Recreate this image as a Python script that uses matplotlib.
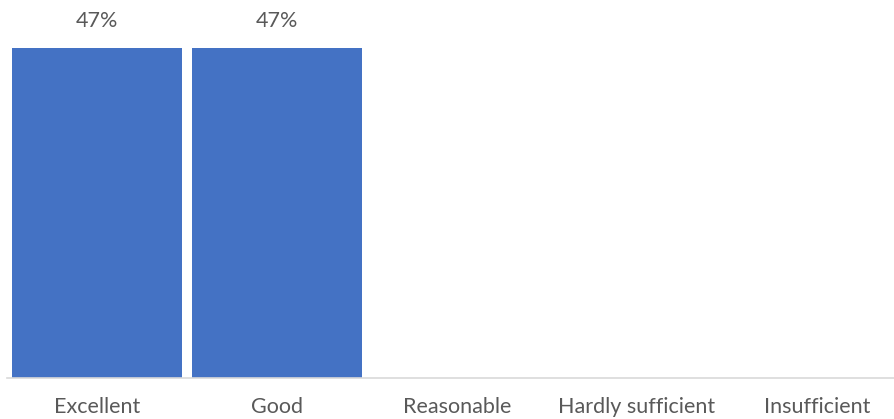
import matplotlib.pyplot as plt

categories = ["Excellent", "Good", "Reasonable", "Hardly sufficient", "Insufficient"]
values = [47, 47, 0, 0, 0]

plt.rcParams['font.family'] = ['Lato', 'DejaVu Sans']

W, H = 894, 419
fig = plt.figure(figsize=(W / 100, H / 100), dpi=100)
# axis baseline at y=378px, 47% bar top at y=48px
ax = fig.add_axes([7 / W, (H - 378) / H, (W - 7) / W, 351 / H])

x = range(len(categories))
bars = ax.bar(x, values, width=0.944, color="#4472C4")

for xi, v in zip(x, values):
    if v > 0:
        ax.text(xi, v + 2.4, f"{v}%", ha="center", va="bottom",
                fontsize=15.5, color="#595959")

ax.set_xlim(-0.5, -0.5 + (W - 7) / 180)
ax.set_ylim(0, 50)
ax.set_xticks(list(x))
ax.set_xticklabels(categories, fontsize=15.5, color="#595959")
ax.tick_params(axis="x", length=0, pad=13.5)
ax.set_yticks([])
for s in ["top", "right", "left"]:
    ax.spines[s].set_visible(False)
ax.spines["bottom"].set_color("#d9d9d9")
ax.spines["bottom"].set_linewidth(1.2)

fig.savefig("out.png", dpi=100)
